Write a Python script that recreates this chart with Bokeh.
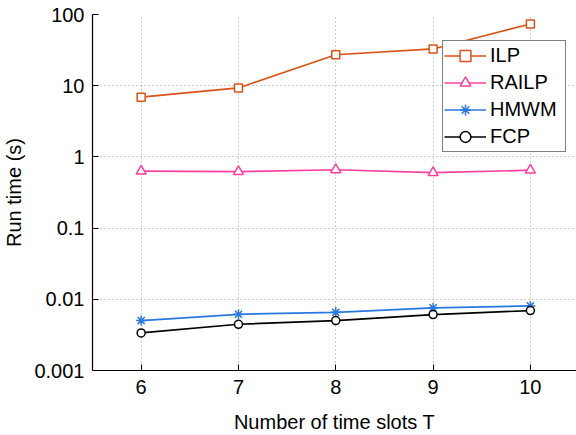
from bokeh.plotting import figure
from bokeh.models import FixedTicker, Legend, LegendItem
from bokeh.embed import file_html
from bokeh.resources import INLINE

T = [6, 7, 8, 9, 10]
ilp = [6.9, 9.3, 27.2, 32.8, 73.6]
railp = [0.63, 0.62, 0.66, 0.60, 0.65]
hmwm = [0.00502, 0.00616, 0.00656, 0.00757, 0.00807]
fcp = [0.00337, 0.00446, 0.00502, 0.0061, 0.00694]
y_ticks = [0.001, 0.01, 0.1, 1, 10, 100]
y_tick_labels = ["0.001", "0.01", "0.1", "1", "10", "100"]

FONT = "Liberation Sans"

p = figure(width=576, height=435, output_backend="svg", toolbar_location=None,
           y_axis_type="log", x_range=(5.5, 10.474), y_range=(0.001, 100),
           min_border_left=91, min_border_right=0, min_border_top=14, min_border_bottom=65)
p.outline_line_color = None
p.background_fill_color = "white"
p.border_fill_color = "white"

for ax in (p.xaxis[0], p.yaxis[0]):
    ax.axis_line_color = "black"
    ax.axis_line_width = 1.2
    ax.major_tick_in = 6
    ax.major_tick_out = 0
    ax.minor_tick_in = 0
    ax.minor_tick_out = 0
    ax.major_tick_line_color = "black"
    ax.major_label_text_font = FONT
    ax.major_label_text_font_size = "20px"
    ax.major_label_text_color = "black"
    ax.axis_label_text_font = FONT
    ax.axis_label_text_font_size = "20px"
    ax.axis_label_text_font_style = "normal"
    ax.axis_label_text_color = "black"

p.xaxis.ticker = FixedTicker(ticks=T)
p.yaxis.ticker = FixedTicker(ticks=y_ticks)
p.yaxis.major_label_overrides = {t: l for t, l in zip(y_ticks, y_tick_labels)}
p.xaxis.axis_label = "Number of time slots T"
p.yaxis.axis_label = "Run time (s)"
p.xaxis.major_label_standoff = 9
p.yaxis.major_label_standoff = 8
p.xaxis.axis_label_standoff = 14
p.yaxis.axis_label_standoff = 6

for g in (p.xgrid[0], p.ygrid[0]):
    g.grid_line_color = "#999999"
    g.grid_line_dash = "1 3"
    g.grid_line_width = 1
p.ygrid.minor_grid_line_color = None

series = [
    ("ILP", ilp, "#D95319", "square", "white", 8),
    ("RAILP", railp, "#FF40A0", "triangle", "white", 10),
    ("HMWM", hmwm, "#2878E0", "asterisk", None, 10),
    ("FCP", fcp, "black", "circle", "white", 8),
]
items = []
for name, ys, col, mk, fill, sz in series:
    l = p.line(T, ys, line_color=col, line_width=1.7)
    s = p.scatter(T, ys, marker=mk, size=sz, line_color=col, line_width=1.5,
                  fill_color=fill if fill else col)
    items.append(LegendItem(label=name, renderers=[l, s]))

leg = Legend(items=items, location=(350, 218))
leg.label_text_font = FONT
leg.label_text_font_size = "20px"
leg.label_text_color = "black"
leg.glyph_width = 42
leg.glyph_height = 27
leg.label_height = 27
leg.label_width = 74
leg.label_standoff = 4
leg.spacing = 0
leg.padding = 1
leg.margin = 0
leg.border_line_color = "black"
leg.border_line_width = 1
leg.background_fill_alpha = 1
p.add_layout(leg, "center")

open("out.html", "w").write(file_html(p, INLINE))
